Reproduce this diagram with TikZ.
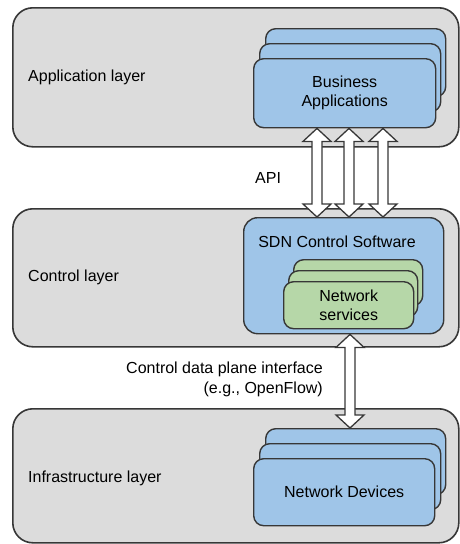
\documentclass[tikz,border=0pt]{standalone}
\usepackage{fontspec}
\setmainfont{Liberation Sans}
\usetikzlibrary{calc}

\definecolor{layerfill}{RGB}{220,220,220}
\definecolor{boxblue}{RGB}{159,197,232}
\definecolor{boxgreen}{RGB}{182,215,168}
\definecolor{edgegray}{RGB}{55,55,55}

\tikzset{
  layer/.style={draw=edgegray, line width=1.6pt, fill=layerfill,
    rounded corners=20pt, anchor=north west, inner sep=0pt},
  card/.style={draw=edgegray, line width=1.4pt, rounded corners=10pt,
    anchor=north west, inner sep=0pt, align=center,
    font=\fontsize{16}{19}\selectfont},
  bluecard/.style={card, fill=boxblue},
  greencard/.style={card, fill=boxgreen},
  lbl/.style={font=\fontsize{16}{20}\selectfont, inner sep=0pt},
  fatarrow/.style={draw=edgegray, line width=1.3pt, fill=white, line join=miter},
}

% hollow two-headed arrow from #1 (upper end) down to #2 (lower end)
\newcommand\dblarrow[2]{%
  \draw[fatarrow] let \p1=(#1), \p2=(#2) in
    (\x1,\y1) -- ++(14pt,-13pt) -- ++(-9pt,0pt) -- (\x1+5pt,\y2+13pt)
    -- ++(9pt,0pt) -- (\x1,\y2) -- ++(-14pt,13pt) -- ++(9pt,0pt)
    -- (\x1-5pt,\y1-13pt) -- ++(-9pt,0pt) -- cycle;}

\begin{document}
\begin{tikzpicture}[x=1pt,y=-1pt]
\useasboundingbox (0,0) rectangle (459,544);

% the three layers
\node[layer, minimum width=446pt, minimum height=139pt] (app) at (12,7) {};
\node[layer, minimum width=446pt, minimum height=138pt] (ctl) at (12,208) {};
\node[layer, minimum width=446pt, minimum height=134pt] (inf) at (12,408) {};

\node[lbl, anchor=west] (appl) at (28,77) {Application layer};
\node[lbl, anchor=west] (ctll) at (28,277) {Control layer};
\node[lbl, anchor=west] (infl) at (28,478) {Infrastructure layer};

% business applications stack
\node[bluecard, minimum width=180pt, minimum height=68pt] (ba3) at (265,28) {};
\node[bluecard, minimum width=181pt, minimum height=68pt] (ba2) at (259,43) {};
\node[bluecard, minimum width=182pt, minimum height=69pt] (ba) at (253,58) {Business\\Applications};

% controller
\node[bluecard, rounded corners=14pt, minimum width=200pt, minimum height=116pt] (sdn) at (243,217) {};
\node[lbl] (sdnl) at (337,242) {SDN Control Software};

\node[greencard, minimum width=129pt, minimum height=46pt] (ns3) at (293,259) {};
\node[greencard, minimum width=129pt, minimum height=46pt] (ns2) at (288,270) {};
\node[greencard, minimum width=130pt, minimum height=47pt] (ns) at (283,281) {Network\\services};

% network devices stack
\node[bluecard, minimum width=180pt, minimum height=66pt] (nd3) at (265,428) {};
\node[bluecard, minimum width=181pt, minimum height=66pt] (nd2) at (259,443) {};
\node[bluecard, minimum width=181pt, minimum height=67pt] (nd) at (253,458) {Network Devices};

% northbound API arrows
\coordinate (a1t) at ($(ba.south west)+(64,0)$);
\coordinate (a2t) at ($(ba.south west)+(96,0)$);
\coordinate (a3t) at ($(ba.south west)+(130,0)$);
\coordinate (a1b) at (a1t |- sdn.north);
\coordinate (a2b) at (a2t |- sdn.north);
\coordinate (a3b) at (a3t |- sdn.north);
\dblarrow{a1t}{a1b}
\dblarrow{a2t}{a2b}
\dblarrow{a3t}{a3b}
\node[lbl, anchor=west] (api) at (255,178) {API};

% southbound interface arrow
\coordinate (c1t) at ($(sdn.south west)+(107,0)$);
\coordinate (c1b) at (c1t |- nd3.north);
\dblarrow{c1t}{c1b}
\node[lbl, align=right, anchor=east] (sbi) at (323,379)
  {Control data plane interface\\(e.g., OpenFlow)};
\end{tikzpicture}
\end{document}
